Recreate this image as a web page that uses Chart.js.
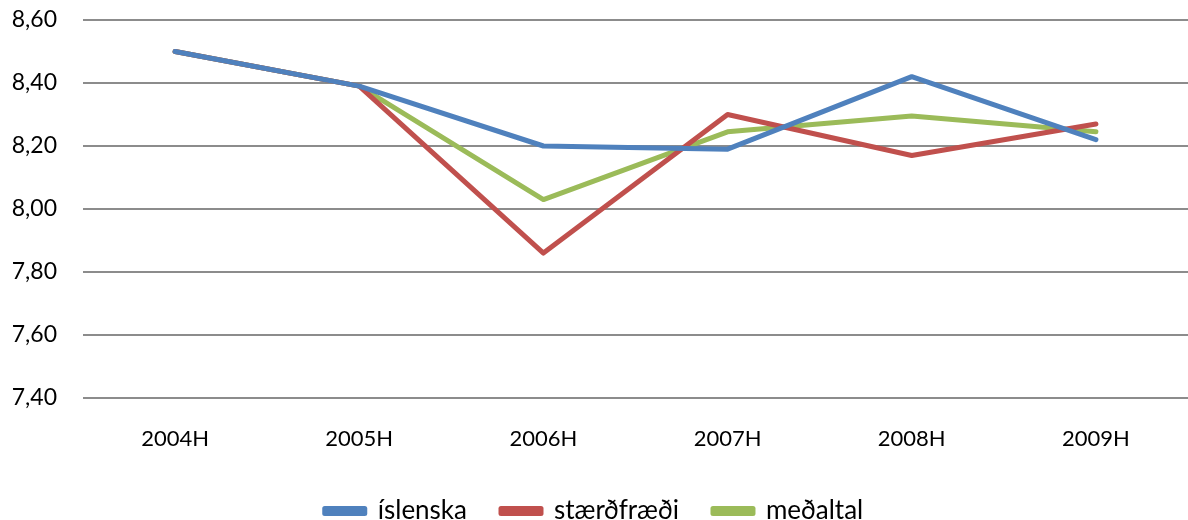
<!DOCTYPE html>
<html>
<head>
<meta charset="utf-8">
<script src="https://cdn.jsdelivr.net/npm/chart.js@4"></script>
<style>
  html, body { margin: 0; padding: 0; background: #fff; }
  #wrap { width: 1188px; height: 520px; }
</style>
</head>
<body>
<div id="wrap"><canvas id="graf"></canvas></div>
<script>
const flokkar = ['2004H', '2005H', '2006H', '2007H', '2008H', '2009H'];
const islenska = [8.50, 8.39, 8.20, 8.19, 8.42, 8.22];
const staerdfraedi = [8.50, 8.39, 7.86, 8.30, 8.17, 8.27];
const medaltal = [8.50, 8.39, 8.03, 8.245, 8.295, 8.245];
const yMin = 7.4, yMax = 8.6, yStep = 0.2;

const leturgerd = "Lato, 'Open Sans', sans-serif";

function lina(label, data, litur) {
    return {
        label: label,
        data: data,
        borderColor: litur,
        backgroundColor: litur,
        borderWidth: 5,
        borderCapStyle: 'round',
        borderJoinStyle: 'round',
        pointRadius: 0,
        tension: 0
    };
}

// minnka hæð skýringa svo þær lendi neðar
const legendLaga = {
    id: 'legendLaga',
    beforeLayout(chart) {
        const lg = chart.legend;
        if (lg && !lg._lagad) {
            const upphafleg = lg.fit.bind(lg);
            lg.fit = function () { upphafleg(); this.height -= 14; };
            lg._lagad = true;
        }
    }
};

const ctx = document.getElementById('graf').getContext('2d');
const graf = new Chart(ctx, {
    type: 'line',
    data: {
        labels: flokkar,
        datasets: [
            lina('íslenska', islenska, '#4F81BD'),
            lina('stærðfræði', staerdfraedi, '#C0504D'),
            lina('meðaltal', medaltal, '#9BBB59')
        ]
    },
    options: {
        responsive: true,
        maintainAspectRatio: false,
        animation: false,
        layout: { padding: { top: 20, right: 0, left: 0, bottom: 0 } },
        scales: {
            x: {
                offset: true,
                grid: { display: false },
                border: { display: false },
                ticks: { color: '#000', font: { family: leturgerd, size: 22 }, padding: 20 },
                afterFit: (s) => { s.height = 66; }
            },
            y: {
                min: yMin,
                max: yMax,
                grid: { color: '#8c8c8c', lineWidth: 2, drawTicks: false },
                border: { display: false },
                ticks: {
                    stepSize: yStep,
                    color: '#000',
                    font: { family: leturgerd, size: 23 },
                    padding: 26,
                    callback: (v) => v.toFixed(2).replace('.', ',')
                },
                afterFit: (s) => { s.width = 83; s.paddingTop = 0; s.paddingBottom = 0; }
            }
        },
        plugins: {
            legend: {
                position: 'bottom',
                labels: {
                    color: '#000',
                    font: { family: leturgerd, size: 26 },
                    boxWidth: 40,
                    boxHeight: 5,
                    padding: 34
                }
            },
            tooltip: { enabled: false }
        }
    },
    plugins: [legendLaga]
});
</script>
</body>
</html>
